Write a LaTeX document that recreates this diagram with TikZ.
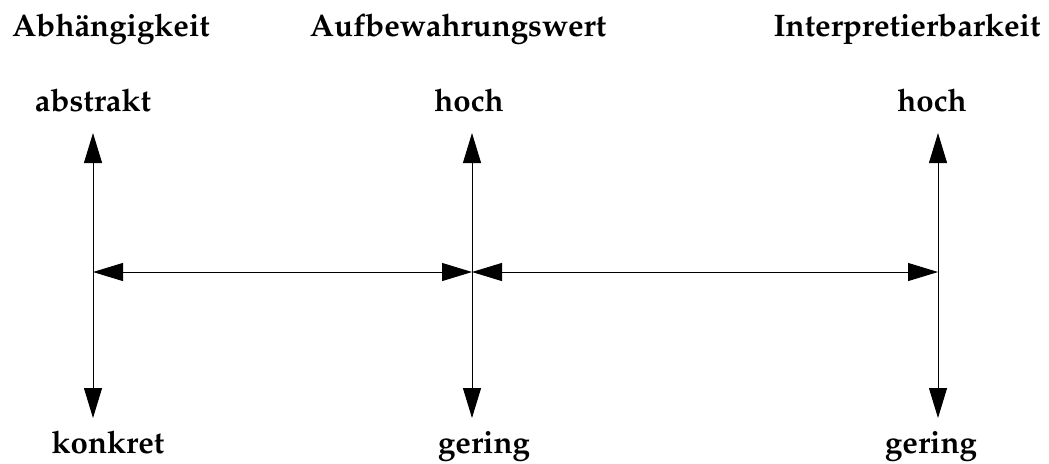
\documentclass[tikz,border=0pt]{standalone}
\usepackage[T1]{fontenc}
\usepackage{mathpazo}
\usepackage{tikz}
\usetikzlibrary{arrows.meta}

\begin{document}
\begin{tikzpicture}[x=0.5pt, y=-0.5pt,
every node/.style={font=\fontsize{15.6}{18}\selectfont\bfseries, inner sep=0pt, anchor=base},
axis/.style={{Triangle[length=15pt,width=9pt]}-{Triangle[length=15pt,width=9pt]}, line width=0.5pt}]
    \useasboundingbox (0,0) rectangle (1049,463);

    % headings
    \node (abh) at (111,36) {Abhängigkeit};
    \node (auf) at (458,36) {Aufbewahrungswert};
    \node (int) at (907,36) {Interpretierbarkeit};

    % scale ends
    \node (abstrakt) at (93,111) {abstrakt};
    \node (hochA) at (469,111) {hoch};
    \node (hochB) at (932,111) {hoch};
    \node (konkret) at (108,453) {konkret};
    \node (geringA) at (484,453) {gering};
    \node (geringB) at (931,453) {gering};

    % axis ends
    \coordinate (topA) at (93,133);
    \coordinate (topB) at (472,133);
    \coordinate (topC) at (938,133);
    \coordinate (botA) at (93,418);
    \coordinate (botB) at (472,418);
    \coordinate (botC) at (938,418);
    \coordinate (midA) at (93,272);
    \coordinate (midB) at (472,272);
    \coordinate (midC) at (938,272);

    \draw[axis] (topA) -- (botA);
    \draw[axis] (topB) -- (botB);
    \draw[axis] (topC) -- (botC);
    \draw[axis] (midA) -- (midB);
    \draw[axis] (midB) -- (midC);
\end{tikzpicture}
\end{document}
